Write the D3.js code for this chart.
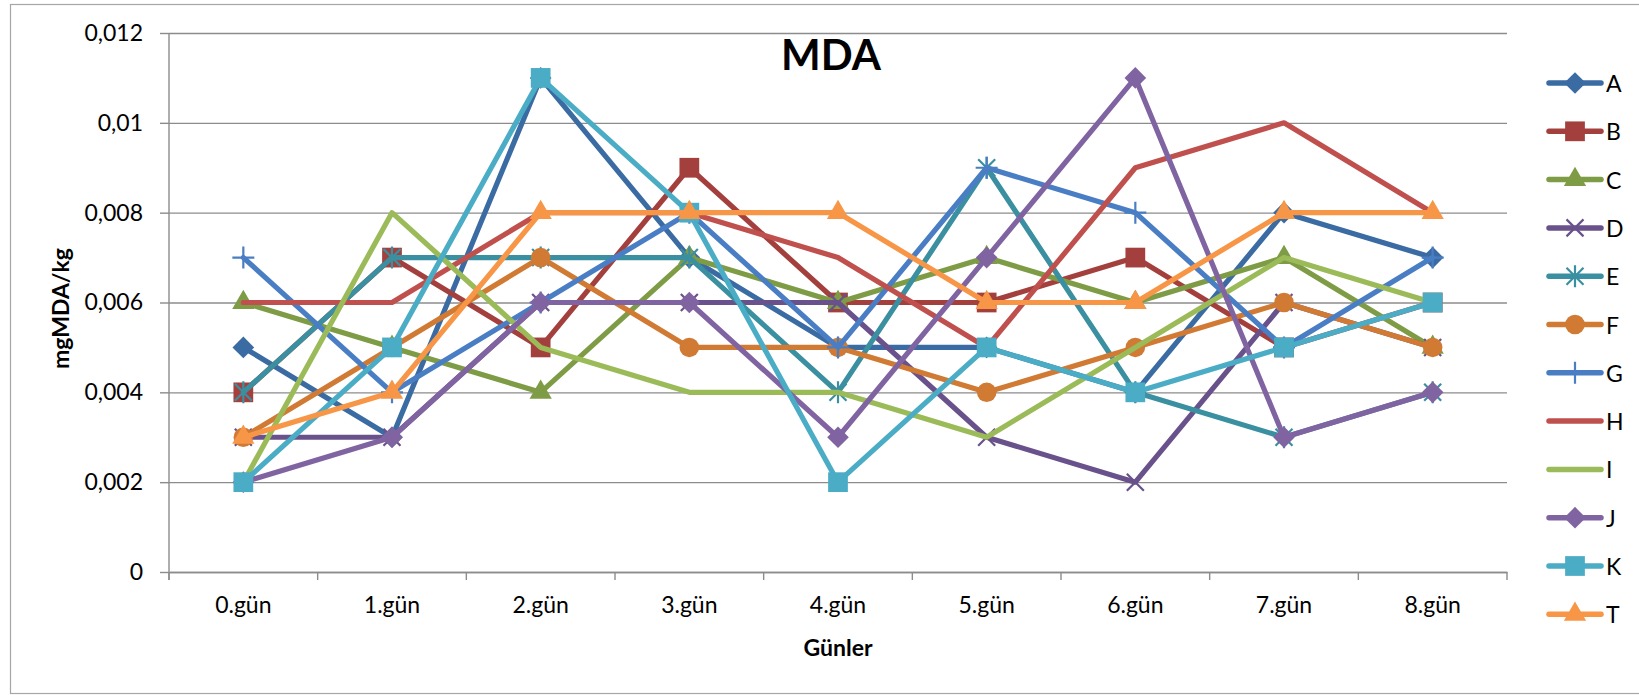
<!DOCTYPE html>
<html>
<head>
<meta charset="utf-8">
<script src="https://cdn.jsdelivr.net/npm/d3@7"></script>
<style>
  body { margin: 0; background: #fff; }
  svg { display: block; font-family: Lato, "Open Sans", sans-serif; }
</style>
</head>
<body>
<div id="chart"></div>
<script>
// categories
var days = ["0.gün", "1.gün", "2.gün", "3.gün", "4.gün", "5.gün", "6.gün", "7.gün", "8.gün"];
var seriesNames = ["A", "B", "C", "D", "E", "F", "G", "H", "I", "J", "K", "T"];
var yTicks = [0, 0.002, 0.004, 0.006, 0.008, 0.01, 0.012];

// series values (mgMDA/kg)
var valA = [0.005, 0.003, 0.011, 0.007, 0.005, 0.005, 0.004, 0.008, 0.007];
var valB = [0.004, 0.007, 0.005, 0.009, 0.006, 0.006, 0.007, 0.005, 0.006];
var valC = [0.006, 0.005, 0.004, 0.007, 0.006, 0.007, 0.006, 0.007, 0.005];
var valD = [0.003, 0.003, 0.006, 0.006, 0.006, 0.003, 0.002, 0.006, 0.005];
var valE = [0.004, 0.007, 0.007, 0.007, 0.004, 0.009, 0.004, 0.003, 0.004];
var valF = [0.003, 0.005, 0.007, 0.005, 0.005, 0.004, 0.005, 0.006, 0.005];
var valG = [0.007, 0.004, 0.006, 0.008, 0.005, 0.009, 0.008, 0.005, 0.007];
var valH = [0.006, 0.006, 0.008, 0.008, 0.007, 0.005, 0.009, 0.010, 0.008];
var valI = [0.002, 0.008, 0.005, 0.004, 0.004, 0.003, 0.005, 0.007, 0.006];
var valJ = [0.002, 0.003, 0.006, 0.006, 0.003, 0.007, 0.011, 0.003, 0.004];
var valK = [0.002, 0.005, 0.011, 0.008, 0.002, 0.005, 0.004, 0.005, 0.006];
var valT = [0.003, 0.004, 0.008, 0.008, 0.008, 0.006, 0.006, 0.008, 0.008];

var allValues = [valA, valB, valC, valD, valE, valF, valG, valH, valI, valJ, valK, valT];

// look of each series
var colors = ["#3b6ba3", "#a3403d", "#7e9c45", "#69518b", "#3a8fa0", "#d07a34",
              "#4a7ec4", "#c0504d", "#9bbb59", "#8064a2", "#4bacc6", "#f79646"];
var markers = ["diamond", "square", "triangle", "times", "star", "circle",
               "plus", "none", "none", "diamond", "square", "triangle"];

var w = 1639;
var h = 695;
var plotL = 169, plotR = 1507, plotT = 33, plotB = 572;

var svg = d3.select("#chart").append("svg")
  .attr("width", w)
  .attr("height", h);

// outer frame
svg.append("rect")
  .attr("x", 10.5).attr("y", 4.5)
  .attr("width", w).attr("height", 689)
  .attr("fill", "none")
  .attr("stroke", "#a6a6a6")
  .attr("stroke-width", 1.2);

var x = d3.scaleBand().domain(days).range([plotL, plotR]).padding(0);
var y = d3.scaleLinear().domain([0, 0.012]).range([plotB, plotT]);

var fmt = d3.formatLocale({ decimal: ",", thousands: ".", grouping: [3], currency: ["", ""] }).format(".3~f");

// gridlines
svg.append("g")
  .attr("transform", "translate(" + plotL + ",0)")
  .call(d3.axisLeft(y).tickValues(yTicks).tickSize(-(plotR - plotL)).tickFormat(""))
  .call(function(g) {
    g.select(".domain").remove();
    g.selectAll("line").attr("stroke", "#8c8c8c").attr("stroke-width", 1.4);
  });

// y axis
svg.append("g")
  .attr("transform", "translate(" + plotL + ",0)")
  .call(d3.axisLeft(y).tickValues(yTicks).tickSize(9).tickSizeOuter(0).tickPadding(17).tickFormat(fmt))
  .call(function(g) {
    g.select(".domain").attr("stroke", "#8c8c8c").attr("stroke-width", 1.4)
      .attr("d", "M0," + plotT + "V" + (plotB + 8));
    g.selectAll("line").attr("stroke", "#8c8c8c").attr("stroke-width", 1.4);
    g.selectAll("text").attr("font-size", 23).attr("fill", "#000")
      .attr("font-family", "Lato, sans-serif");
  });

// x axis
svg.append("g")
  .attr("transform", "translate(0," + plotB + ")")
  .call(d3.axisBottom(x).tickSize(0).tickPadding(25))
  .call(function(g) {
    g.select(".domain").attr("stroke", "#8c8c8c").attr("stroke-width", 1.4);
    g.selectAll("text").attr("font-size", 23).attr("fill", "#000")
      .attr("font-family", "Lato, sans-serif");
  });

// x tick marks between categories
svg.append("g").selectAll("line")
  .data(days.concat(["end"]))
  .enter()
  .append("line")
  .attr("x1", function(d) { return d == "end" ? plotR : x(d); })
  .attr("x2", function(d) { return d == "end" ? plotR : x(d); })
  .attr("y1", plotB)
  .attr("y2", plotB + 8)
  .attr("stroke", "#8c8c8c")
  .attr("stroke-width", 1.4);

// axis titles + chart title
svg.append("text")
  .attr("x", 831).attr("y", 54)
  .attr("text-anchor", "middle").attr("dominant-baseline", "central")
  .attr("font-size", 42).attr("font-weight", "bold")
  .text("MDA");

svg.append("text")
  .attr("x", (plotL + plotR) / 2).attr("y", 647)
  .attr("text-anchor", "middle").attr("dominant-baseline", "central")
  .attr("font-size", 23).attr("font-weight", "bold")
  .text("Günler");

svg.append("text")
  .attr("transform", "translate(60," + ((plotT + plotB) / 2 + 6) + ") rotate(-90)")
  .attr("text-anchor", "middle").attr("dominant-baseline", "central")
  .attr("font-size", 23).attr("font-weight", "bold")
  .text("mgMDA/kg");

// marker shapes
function markerPath(kind) {
  if (kind == "diamond") return d3.symbol().type(d3.symbolSquare).size(235)();
  if (kind == "square") return d3.symbol().type(d3.symbolSquare).size(390)();
  if (kind == "triangle") return d3.symbol().type(d3.symbolTriangle).size(215)();
  if (kind == "circle") return d3.symbol().type(d3.symbolCircle).size(300)();
  if (kind == "times") return "M-8.5,-8.5L8.5,8.5M-8.5,8.5L8.5,-8.5";
  if (kind == "star") return "M-8.5,-8.5L8.5,8.5M-8.5,8.5L8.5,-8.5M0,-11L0,11";
  if (kind == "plus") return "M-11,0L11,0M0,-11L0,11";
  return null;
}

function drawMarker(g, kind, color, cx, cy) {
  if (kind == "none") return;
  var p = g.append("path")
    .attr("d", markerPath(kind))
    .attr("transform", "translate(" + cx + "," + cy + ")" + (kind == "diamond" ? " rotate(45)" : ""));
  if (kind == "times" || kind == "star" || kind == "plus") {
    p.attr("fill", "none").attr("stroke", color).attr("stroke-width", 2.2);
  } else {
    p.attr("fill", color).attr("stroke", "none");
  }
}

var line = d3.line()
  .x(function(d, i) { return x(days[i]) + x.bandwidth() / 2; })
  .y(function(d) { return y(d); });

var plot = svg.append("g");
allValues.forEach(function(vals, s) {
  var g = plot.append("g");
  g.append("path")
    .datum(vals)
    .attr("d", line)
    .attr("fill", "none")
    .attr("stroke", colors[s])
    .attr("stroke-width", 5.2)
    .attr("stroke-linejoin", "round")
    .attr("stroke-linecap", "round");
  vals.forEach(function(v, i) {
    drawMarker(g, markers[s], colors[s], x(days[i]) + x.bandwidth() / 2, y(v));
  });
});

// legend
var legend = svg.append("g");
seriesNames.forEach(function(name, i) {
  var ly = 83 + i * 48.3;
  var g = legend.append("g");
  g.append("line")
    .attr("x1", 1549).attr("x2", 1601)
    .attr("y1", ly).attr("y2", ly)
    .attr("stroke", colors[i])
    .attr("stroke-width", 5.5)
    .attr("stroke-linecap", "round");
  drawMarker(g, markers[i], colors[i], 1575, ly);
  g.append("text")
    .attr("x", 1606).attr("y", ly)
    .attr("dominant-baseline", "central")
    .attr("font-size", 23)
    .text(name);
});
</script>
</body>
</html>
